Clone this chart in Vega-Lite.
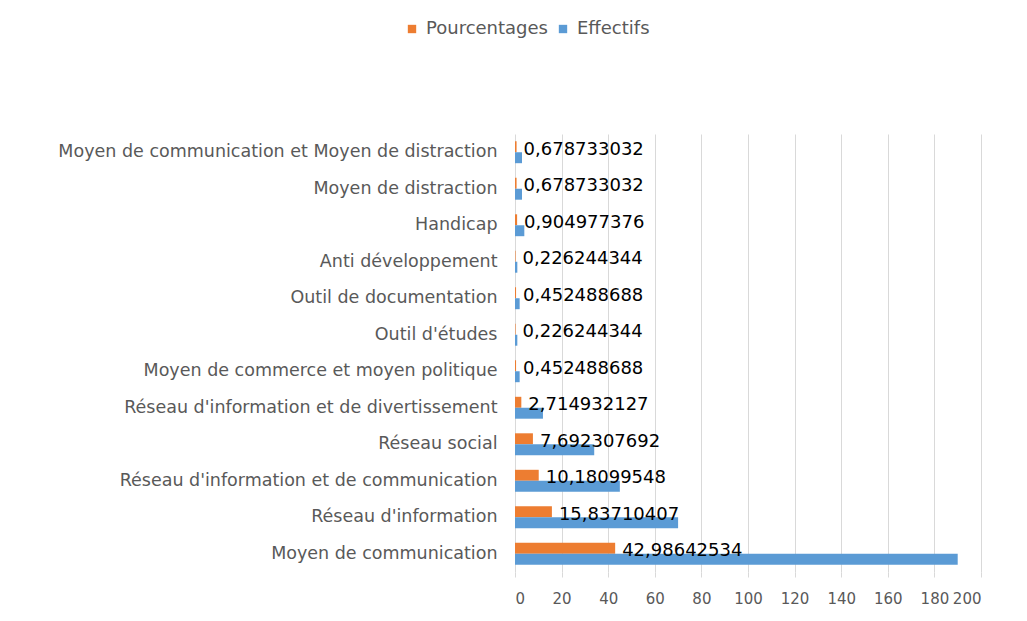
{
  "$schema": "https://vega.github.io/schema/vega-lite/v6.json",
  "width": 466,
  "height": 438,
  "autosize": {"type": "none"},
  "padding": {"left": 515, "top": 134, "right": 46, "bottom": 49},
  "background": "white",
  "data": {
    "values": [
      {"categorie": "Moyen de communication", "serie": "Pourcentages", "valeur": 42.98642534},
      {"categorie": "Moyen de communication", "serie": "Effectifs", "valeur": 190},
      {"categorie": "Réseau d'information", "serie": "Pourcentages", "valeur": 15.83710407},
      {"categorie": "Réseau d'information", "serie": "Effectifs", "valeur": 70},
      {"categorie": "Réseau d'information et de communication", "serie": "Pourcentages", "valeur": 10.18099548},
      {"categorie": "Réseau d'information et de communication", "serie": "Effectifs", "valeur": 45},
      {"categorie": "Réseau social", "serie": "Pourcentages", "valeur": 7.692307692},
      {"categorie": "Réseau social", "serie": "Effectifs", "valeur": 34},
      {"categorie": "Réseau d'information et de divertissement", "serie": "Pourcentages", "valeur": 2.714932127},
      {"categorie": "Réseau d'information et de divertissement", "serie": "Effectifs", "valeur": 12},
      {"categorie": "Moyen de commerce et moyen politique", "serie": "Pourcentages", "valeur": 0.452488688},
      {"categorie": "Moyen de commerce et moyen politique", "serie": "Effectifs", "valeur": 2},
      {"categorie": "Outil d'études", "serie": "Pourcentages", "valeur": 0.226244344},
      {"categorie": "Outil d'études", "serie": "Effectifs", "valeur": 1},
      {"categorie": "Outil de documentation", "serie": "Pourcentages", "valeur": 0.452488688},
      {"categorie": "Outil de documentation", "serie": "Effectifs", "valeur": 2},
      {"categorie": "Anti développement", "serie": "Pourcentages", "valeur": 0.226244344},
      {"categorie": "Anti développement", "serie": "Effectifs", "valeur": 1},
      {"categorie": "Handicap", "serie": "Pourcentages", "valeur": 0.904977376},
      {"categorie": "Handicap", "serie": "Effectifs", "valeur": 4},
      {"categorie": "Moyen de distraction", "serie": "Pourcentages", "valeur": 0.678733032},
      {"categorie": "Moyen de distraction", "serie": "Effectifs", "valeur": 3},
      {"categorie": "Moyen de communication et Moyen de distraction", "serie": "Pourcentages", "valeur": 0.678733032},
      {"categorie": "Moyen de communication et Moyen de distraction", "serie": "Effectifs", "valeur": 3}
    ]
  },
  "encoding": {
    "y": {
      "field": "categorie",
      "type": "nominal",
      "sort": [
        "Moyen de communication et Moyen de distraction",
        "Moyen de distraction",
        "Handicap",
        "Anti développement",
        "Outil de documentation",
        "Outil d'études",
        "Moyen de commerce et moyen politique",
        "Réseau d'information et de divertissement",
        "Réseau social",
        "Réseau d'information et de communication",
        "Réseau d'information",
        "Moyen de communication"
      ],
      "scale": {"paddingInner": 0.4, "paddingOuter": 0.2},
      "axis": {
        "title": null,
        "ticks": false,
        "domain": false,
        "labelPadding": 18,
        "labelFontSize": 17.5,
        "labelColor": "#595959",
        "labelFont": "DejaVu Sans",
        "labelLimit": 520
      }
    },
    "yOffset": {
      "field": "serie",
      "type": "nominal",
      "sort": ["Pourcentages", "Effectifs"],
      "scale": {"paddingInner": 0, "paddingOuter": 0}
    },
    "x": {
      "field": "valeur",
      "type": "quantitative",
      "scale": {"domain": [0, 200], "nice": false},
      "axis": {
        "title": null,
        "values": [0, 20, 40, 60, 80, 100, 120, 140, 160, 180, 200],
        "domain": false,
        "grid": true,
        "gridColor": "#d9d9d9",
        "tickColor": "#d9d9d9",
        "tickSize": 5,
        "labelPadding": 14,
        "labelFontSize": 15,
        "labelColor": "#595959",
        "labelFont": "DejaVu Sans"
      }
    }
  },
  "layer": [
    {
      "mark": {"type": "bar"},
      "encoding": {
        "color": {
          "field": "serie",
          "type": "nominal",
          "scale": {"domain": ["Pourcentages", "Effectifs"], "range": ["#ED7D31", "#5B9BD5"]},
          "legend": {
            "title": null,
            "orient": "none",
            "direction": "horizontal",
            "legendX": -112,
            "legendY": -114,
            "symbolType": "square",
            "symbolSize": 70,
            "labelFontSize": 18,
            "labelColor": "#595959",
            "labelFont": "DejaVu Sans",
            "columnPadding": 6,
            "labelOffset": 5
          }
        }
      }
    },
    {
      "transform": [{"filter": "datum.serie === 'Pourcentages'"}],
      "mark": {"type": "text", "align": "left", "baseline": "middle", "dx": 7, "dy": 3, "fontSize": 18, "font": "DejaVu Sans", "color": "#000000"},
      "encoding": {
        "text": {"field": "valeur", "type": "quantitative", "format": ".10~g"}
      }
    }
  ],
  "config": {
    "view": {"stroke": null},
    "locale": {
      "number": {"decimal": ",", "thousands": " ", "grouping": [3], "currency": ["", " €"]}
    }
  }
}
